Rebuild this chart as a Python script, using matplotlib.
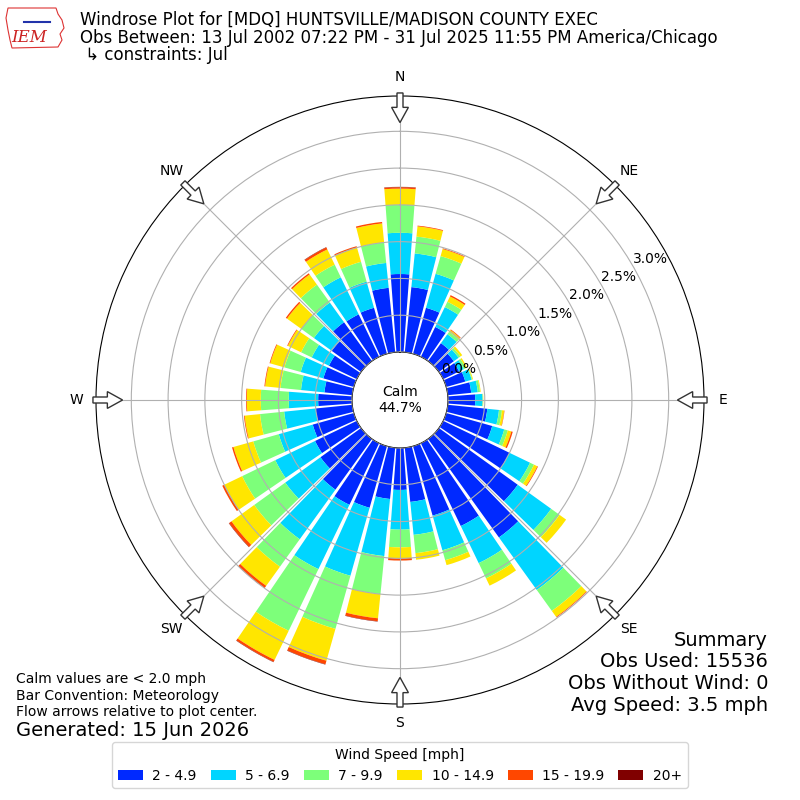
import numpy as np
import matplotlib
matplotlib.use("Agg")
import matplotlib.pyplot as plt
from matplotlib.patches import FancyArrow, Polygon

# wind directions (deg, meteorological) and speed bins
directions = np.arange(0, 360, 10)
speed_bins = ["2 - 4.9", "5 - 6.9", "7 - 9.9", "10 - 14.9", "15 - 19.9", "20+"]

# cumulative frequency (%) at the top of each speed bin
top_2 = [1.06, 0.89, 0.65, 0.45, 0.30, 0.25, 0.24, 0.27, 0.32, 0.37, 0.54, 0.65,
         1.00, 1.32, 1.65, 1.25, 0.98, 0.74, 0.57, 0.70, 0.87, 0.93, 0.85, 0.68,
         0.63, 0.58, 0.50, 0.46, 0.38, 0.43, 0.42, 0.49, 0.65, 0.64, 0.65, 0.88]
top_5 = [1.62, 1.35, 1.13, 0.75, 0.45, 0.33, 0.31, 0.36, 0.41, 0.47, 0.70, 0.82,
         1.31, 1.88, 2.53, 1.81, 1.47, 1.19, 1.11, 1.48, 1.83, 1.90, 1.68, 1.27,
         1.23, 1.06, 0.93, 0.86, 0.70, 0.75, 0.68, 0.79, 0.98, 1.20, 1.02, 1.22]
top_7 = [2.00, 1.58, 1.38, 0.83, 0.49, 0.36, 0.34, 0.37, 0.44, 0.475, 0.74, 0.87,
         1.37, 2.02, 2.88, 2.04, 1.61, 1.44, 1.35, 2.00, 2.58, 2.83, 2.14, 1.79,
         1.73, 1.42, 1.26, 1.24, 0.98, 0.98, 0.84, 1.00, 1.28, 1.39, 1.30, 1.50]
top_10 = [2.22, 1.72, 1.48, 0.91, 0.52, 0.39, 0.36, 0.38, 0.45, 0.48, 0.77, 0.92,
          1.42, 2.13, 2.98, 2.15, 1.68, 1.53, 1.50, 2.33, 3.03, 3.27, 2.46, 2.17,
          2.00, 1.70, 1.47, 1.43, 1.19, 1.18, 1.04, 1.24, 1.45, 1.62, 1.50, 1.76]
top_15 = [2.24, 1.73, 1.49, 0.93, 0.53, 0.39, 0.36, 0.38, 0.45, 0.48, 0.775, 0.94,
          1.43, 2.13, 2.99, 2.15, 1.68, 1.53, 1.53, 2.37, 3.08, 3.30, 2.50, 2.21,
          2.03, 1.72, 1.48, 1.44, 1.20, 1.19, 1.05, 1.26, 1.47, 1.65, 1.52, 1.78]
top_20 = [2.245, 1.73, 1.49, 0.93, 0.53, 0.39, 0.36, 0.38, 0.45, 0.48, 0.775, 0.94,
          1.43, 2.13, 2.99, 2.15, 1.68, 1.53, 1.53, 2.375, 3.085, 3.305, 2.50, 2.215,
          2.03, 1.72, 1.48, 1.44, 1.20, 1.19, 1.05, 1.26, 1.47, 1.655, 1.52, 1.78]

calm_pct = 44.7
rticks = [0.0, 0.5, 1.0, 1.5, 2.0, 2.5, 3.0]
compass = ["N", "NE", "E", "SE", "S", "SW", "W", "NW"]

colors = plt.cm.jet(np.linspace(0, 1, 7))[1:]

fig = plt.figure(figsize=(8, 8), dpi=100)
ax = fig.add_axes([0.12, 0.12, 0.76, 0.76], projection="polar")
ax.set_theta_zero_location("N")
ax.set_theta_direction(-1)

theta = np.deg2rad(directions)
width = np.deg2rad(10) * 0.85
tops = [np.zeros(36), top_2, top_5, top_7, top_10, top_15, top_20]
handles = []
for i in range(6):
    lo = np.asarray(tops[i])
    hi = np.asarray(tops[i + 1])
    b = ax.bar(theta, hi - lo, bottom=lo, width=width, color=colors[i],
               label=speed_bins[i], linewidth=0)
    handles.append(b)

rmax = 3.48
ax.set_ylim(0, rmax)
ax.set_rorigin(-0.6525)
ax.set_yticks(rticks)
ax.set_yticklabels([f"{v:.1f}%" for v in rticks], fontsize=10)
ax.set_rlabel_position(60)
ax.set_xticks(np.deg2rad(np.arange(0, 360, 45)))
ax.set_xticklabels(compass, fontsize=10)
ax.tick_params(axis="x", pad=3.5)
ax.set_axisbelow(False)
ax.grid(True, color="#b0b0b0", lw=0.8)
ax.spines["polar"].set_color("black")
ax.spines["inner"].set_color("black")

ax.text(0.5, 0.5, f"Calm\n{calm_pct:.1f}%", transform=ax.transAxes,
        ha="center", va="center", fontsize=10)

# flow arrows on the rim, pointing at the centre
R = 0.38
for ang in np.deg2rad(np.arange(0, 360, 45)):
    ux, uy = np.sin(ang), np.cos(ang)
    x0, y0 = 0.5 + ux * R * 1.01, 0.5 + uy * R * 1.01
    arr = FancyArrow(x0, y0, -ux * 0.037, -uy * 0.037, width=0.0075,
                     head_width=0.021, head_length=0.019,
                     length_includes_head=True, transform=fig.transFigure,
                     facecolor="white", edgecolor="#333333", lw=1.0, zorder=10)
    fig.add_artist(arr)

# titles
fig.text(0.1, 0.975, "Windrose Plot for [MDQ] HUNTSVILLE/MADISON COUNTY EXEC",
         fontsize=12, va="center")
fig.text(0.1, 0.9525, "Obs Between: 13 Jul 2002 07:22 PM - 31 Jul 2025 11:55 PM America/Chicago",
         fontsize=12, va="center")
fig.text(0.1, 0.931, " \u21b3 constraints: Jul", fontsize=12, va="center")

# simple IEM logo
iowa = np.array([[8, 8], [56, 8], [58, 14], [62, 20], [64, 28], [60, 34],
                 [62, 40], [58, 47], [12, 48], [10, 40], [8, 30], [6, 18]])
fig.add_artist(Polygon(np.column_stack([iowa[:, 0] / 800, 1 - iowa[:, 1] / 800]),
                       closed=True, fill=False, ec="#dd3333", lw=0.8,
                       transform=fig.transFigure))
fig.add_artist(plt.Line2D([24 / 800, 50 / 800], [1 - 22 / 800, 1 - 22 / 800],
                          color="#2233aa", lw=1.5, transform=fig.transFigure))
fig.text(0.037, 1 - 38 / 800, "IEM", color="#cc2222", fontsize=12,
         family="DejaVu Serif", style="italic", ha="center", va="center")

# notes
fig.text(0.02, 1 - 679 / 800, "Calm values are < 2.0 mph", fontsize=10, va="center")
fig.text(0.02, 1 - 696 / 800, "Bar Convention: Meteorology", fontsize=10, va="center")
fig.text(0.02, 1 - 712 / 800, "Flow arrows relative to plot center.", fontsize=10, va="center")
fig.text(0.02, 1 - 730 / 800, "Generated: 15 Jun 2026", fontsize=14, va="center")

summary = ["Summary", "Obs Used: 15536", "Obs Without Wind: 0", "Avg Speed: 3.5 mph"]
for k, s in enumerate(summary):
    fig.text(0.96, 1 - (640 + 21.7 * k) / 800, s, fontsize=14, ha="right", va="center")

fig.legend(handles, speed_bins, loc="lower center", bbox_to_anchor=(0.5, 0.006),
           ncol=6, title="Wind Speed [mph]", fontsize=10, title_fontsize=10,
           handlelength=1.8, handletextpad=0.7, columnspacing=1.0)

fig.savefig("out.png", dpi=100)
